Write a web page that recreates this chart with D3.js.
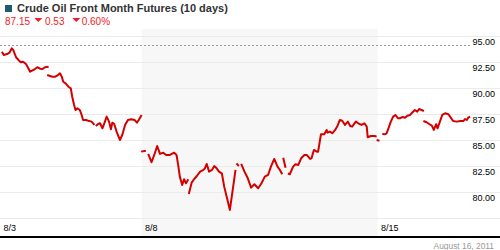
<!DOCTYPE html>
<html>
<head>
<meta charset="utf-8">
<script src="https://d3js.org/d3.v7.min.js"></script>
<style>
  body { margin: 0; background: #fff; }
  svg { display: block; font-family: Arial, "Liberation Sans", sans-serif; }
</style>
</head>
<body>
<div id="chart"></div>
<script>
const title = "Crude Oil Front Month Futures (10 days)";
const lastPrice = "87.15";
const change = "0.53";
const changePct = "0.60%";
const dateStamp = "August 16, 2011";

// x is measured in trading days from the 8/3 open
const dayTicks = [0, 3, 8];
const dayLabels = ["8/3", "8/8", "8/15"];
const weekBand = [3, 8];

const priceTicks = [95, 92.5, 90, 87.5, 85, 82.5, 80, 77.5];
const priceLabels = ["95.00", "92.50", "90.00", "87.50", "85.00", "82.50", "80.00", ""];
const refPrice = 94.14; // dashed reference line

// null breaks the line (gaps between sessions)
const times = [
  0.04, 0.08, 0.15, 0.20, 0.25, 0.28, 0.34, 0.39, 0.44, 0.49, 0.55, 0.60, 0.64, 0.68, 0.74, 0.79, 0.85, 0.90, 0.95, 1.03, null,
  1.00, 1.06, 1.11, 1.17, 1.21, 1.27, 1.31, 1.34, 1.39, 1.45, 1.50, 1.53, 1.57, 1.60, 1.64, 1.69, 1.73, 1.76, 1.82, 1.87, 1.94, 2.00, null,
  2.03, 2.08, 2.12, 2.17, 2.21, 2.26, 2.31, 2.35, 2.38, 2.42, 2.47, 2.54, 2.59, 2.65, 2.71, 2.78, 2.85, 2.90, 2.94, 3.00, null,
  2.99, 3.09, null,
  3.14, 3.21, 3.28, 3.33, 3.39, 3.46, 3.52, 3.60, 3.69, 3.74, 3.78, 3.81, 3.86, 3.90, 3.94, 3.99, null,
  4.00, 4.06, 4.10, 4.17, 4.24, 4.31, 4.34, 4.38, 4.43, 4.49, 4.54, 4.59, 4.64, 4.70, 4.75, 4.82, 4.87, 4.92, 4.99, null,
  5.01, 5.06, null,
  5.11, 5.18, 5.25, 5.32, 5.39, 5.47, 5.54, 5.61, 5.68, 5.74, 5.81, 5.88, 5.93, 5.98, null,
  6.00, 6.05, null,
  6.10, 6.14, 6.21, 6.26, 6.32, 6.38, 6.45, 6.50, 6.57, 6.60, 6.65, 6.71, 6.74, 6.80, 6.87, 6.92, 6.94, 6.99,
  7.04, 7.10, 7.15, 7.20, 7.25, 7.31, 7.37, 7.42, 7.46, 7.54, 7.59, 7.66, 7.72, 7.77, 7.79, 7.86, 7.94, 7.98, null,
  7.98, 8.04, null,
  8.10, 8.16, 8.19, 8.23, 8.28, 8.33, 8.38, 8.43, 8.47, 8.53, 8.58, 8.63, 8.69, 8.74, 8.79, 8.84, 8.88, 8.93, 8.98, null,
  8.97, 9.04, 9.10, 9.15, 9.19, 9.24, 9.27, 9.32, 9.37, 9.43, 9.50, 9.55, 9.60, 9.68, 9.75, 9.82, 9.85, 9.89, 9.92, 9.96
];
const prices = [
  93.49, 93.18, 93.27, 93.40, 93.82, 93.66, 92.96, 92.70, 92.48, 92.53, 92.31, 91.90, 91.57, 91.67, 91.83, 92.00, 91.86, 91.83, 92.00, 92.05, null,
  91.26, 91.16, 91.09, 91.09, 91.19, 91.42, 91.09, 90.61, 90.46, 90.13, 89.98, 89.17, 88.38, 87.90, 88.06, 87.90, 87.42, 86.94, 86.94, 86.87, 86.78, 86.46, null,
  86.36, 86.55, 86.62, 86.14, 86.62, 87.26, 86.78, 86.05, 86.68, 86.55, 85.82, 85.02, 85.50, 86.46, 86.94, 87.01, 86.94, 86.68, 86.94, 87.42, null,
  83.90, 83.99, null,
  83.68, 82.88, 83.74, 84.44, 83.68, 83.80, 83.58, 83.58, 83.80, 83.58, 82.46, 81.50, 80.70, 81.25, 80.86, 81.25, null,
  79.84, 80.92, 81.18, 81.56, 81.98, 82.14, 82.30, 82.72, 81.98, 82.14, 82.52, 82.30, 81.98, 81.82, 80.54, 79.26, 78.30, 79.90, 82.14, null,
  82.78, 82.52, null,
  82.72, 81.98, 81.34, 80.44, 80.77, 80.38, 80.86, 81.50, 81.66, 82.46, 83.20, 82.46, 82.14, 81.73, null,
  83.32, 82.36, null,
  81.82, 81.73, 82.46, 82.69, 82.62, 83.26, 83.58, 83.58, 83.20, 83.26, 84.06, 83.90, 83.90, 85.57, 85.57, 85.98, 85.72, 85.82,
  85.66, 85.98, 86.36, 86.94, 86.87, 86.46, 86.78, 86.36, 86.30, 86.78, 86.62, 86.46, 86.62, 86.30, 85.28, 85.40, 85.40, 85.34, null,
  85.02, 84.95, null,
  85.59, 85.57, 85.66, 86.14, 86.78, 87.26, 87.42, 87.10, 87.10, 87.23, 87.15, 87.35, 87.42, 87.68, 87.90, 87.74, 87.99, 87.90, 87.80, null,
  86.84, 86.72, 86.53, 86.39, 85.98, 86.53, 86.14, 86.78, 87.42, 87.58, 87.49, 87.16, 86.84, 86.78, 86.84, 86.84, 87.03, 86.94, 87.16, 87.26
];

const width = 500, height = 250;
const plotTop = 29, plotBottom = 236;
const red = "#ee1c25";

const x = d3.scaleLinear().domain([0, 10]).range([0, 472]);
const y = d3.scaleLinear().domain([77.5, 95]).range([218.3, 36]);

const svg = d3.select("#chart")
  .append("svg")
  .attr("width", width)
  .attr("height", height);

// header
svg.append("rect")
  .attr("x", 5).attr("y", 5)
  .attr("width", 7).attr("height", 7)
  .attr("fill", "#1d5b6e");

svg.append("text")
  .attr("x", 17).attr("y", 12)
  .attr("font-size", 11).attr("font-weight", "bold")
  .attr("fill", "#333")
  .text(title);

function downTriangle(cx, cy) {
  svg.append("path")
    .attr("d", `M${cx - 4},${cy - 2} L${cx + 4},${cy - 2} L${cx},${cy + 2} Z`)
    .attr("fill", red);
}

const quote = svg.append("g").attr("font-size", 10).attr("fill", red);
quote.append("text").attr("x", 5).attr("y", 24.5).text(lastPrice);
downTriangle(38.3, 20);
quote.append("text").attr("x", 45).attr("y", 24.5).text(change);
downTriangle(76.3, 20);
quote.append("text").attr("x", 81.7).attr("y", 24.5).text(changePct);

// shaded week
svg.append("rect")
  .attr("x", x(weekBand[0]))
  .attr("y", plotTop)
  .attr("width", x(weekBand[1]) - x(weekBand[0]))
  .attr("height", plotBottom - plotTop)
  .attr("fill", "#f7f7f7");

// price gridlines + labels
const yAxis = svg.append("g")
  .attr("transform", `translate(${width},0)`)
  .call(
    d3.axisLeft(y)
      .tickValues(priceTicks)
      .tickSize(width)
      .tickFormat((d, i) => priceLabels[i])
  );
yAxis.select(".domain").remove();
yAxis.selectAll(".tick")
  .attr("transform", (d) => `translate(0,${Math.round(y(d)) + 0.5})`);
yAxis.selectAll(".tick line").attr("stroke", "#ebebeb");
yAxis.selectAll(".tick text")
  .attr("x", -5)
  .attr("dy", 8.5)
  .attr("font-size", 9)
  .attr("font-family", null)
  .attr("fill", "#000");

// dashed reference line
svg.append("line")
  .attr("x1", 0)
  .attr("x2", 470)
  .attr("y1", Math.round(y(refPrice)) + 0.5)
  .attr("y2", Math.round(y(refPrice)) + 0.5)
  .attr("stroke", "#999")
  .attr("stroke-dasharray", "2,2");

// date axis
const xAxis = svg.append("g")
  .attr("transform", `translate(0,${plotBottom})`)
  .call(
    d3.axisBottom(x)
      .tickValues(dayTicks)
      .tickSize(0)
      .tickFormat((d, i) => dayLabels[i])
  );
xAxis.select(".domain").remove();
xAxis.selectAll(".tick text")
  .attr("text-anchor", "start")
  .attr("x", 3)
  .attr("y", -5)
  .attr("dy", 0)
  .attr("font-size", 9)
  .attr("font-family", null)
  .attr("fill", "#000");

// price line
const pts = times.map((t, i) => ({ t: t, p: prices[i] }));
svg.append("path")
  .datum(pts)
  .attr("fill", "none")
  .attr("stroke", "#d40000")
  .attr("stroke-width", 2)
  .attr("stroke-linejoin", "round")
  .attr("d", d3.line()
    .defined((d) => d.p !== null)
    .x((d) => x(d.t))
    .y((d) => y(d.p)));

// bottom rule
svg.append("rect")
  .attr("x", 0).attr("y", plotBottom)
  .attr("width", width).attr("height", 2)
  .attr("fill", "#000");

svg.append("text")
  .attr("x", 494).attr("y", 248.5)
  .attr("text-anchor", "end")
  .attr("font-size", 8.4)
  .attr("fill", "#999")
  .text(dateStamp);
</script>
</body>
</html>
